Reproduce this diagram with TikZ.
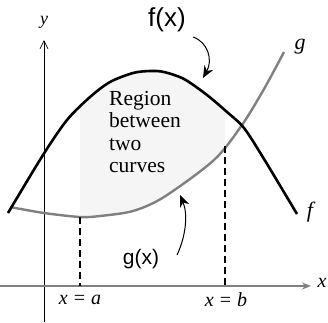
\documentclass[tikz,border=0pt]{standalone}
\usepackage{fontspec}
\setmainfont{Liberation Serif}
\newfontfamily\sansf{Liberation Sans}
\usetikzlibrary{arrows.meta}
\begin{document}
\begin{tikzpicture}[x=1pt,y=-1pt,
  fcurve/.style={line width=2.6pt,black},
  gcurve/.style={line width=2.4pt,black!50},
  axisy/.style={line width=0.7pt,black},
  axisx/.style={line width=1.4pt,black!50},
  dropline/.style={line width=1.1pt,black,dash pattern=on 7pt off 4pt},
  callout/.style={line width=1pt,black,-{Stealth[length=12pt,width=10pt]}},
  mathlbl/.style={font=\fontsize{20}{20}\selectfont\itshape,inner sep=0pt},
  funclbl/.style={inner sep=0pt}]
\useasboundingbox (0,0) rectangle (328,322);
% shaded region
\begin{scope}
\clip (80,0) rectangle (225,322);
\fill[black!4] plot[smooth] coordinates {(8,213) (43,155) (67,120) (90,97) (110,82) (133,73) (150,71) (164,72) (184,79) (207,95) (227,112) (244,128) (264,159) (297,214)}
  -- plot[smooth] coordinates {(284,52) (264,89) (242,125) (214,160) (164,197) (133,211) (100,216) (80,217) (44,213) (10,207)} -- cycle;
\end{scope}
% axes
\coordinate (yb) at (44,322);
\coordinate (yt) at (44,40);
\coordinate (xl) at (0,286);
\coordinate (xr) at (311,286);
\draw[axisy,-{Straight Barb[length=8pt,width=8pt]}] (yb) -- (yt);
\draw[axisx,-{Stealth[length=9pt,width=7pt]}] (xl) -- (xr);
% curves
\draw[gcurve] plot[smooth] coordinates {(10,207) (44,213) (80,217) (100,216) (133,211) (164,197) (214,160) (242,125) (264,89) (284,52)};
\draw[fcurve] plot[smooth] coordinates {(8,213) (43,155) (67,120) (90,97) (110,82) (133,73) (150,71) (164,72) (184,79) (207,95) (227,112) (244,128) (264,159) (297,214)};
% dashed lines
\coordinate (ga) at (80,217);
\coordinate (aa) at (80,286);
\coordinate (gb) at (225,146);
\coordinate (ab) at (225,286);
\draw[dropline] (ga) -- (aa);
\draw[dropline] (gb) -- (ab);
% labels
\node[mathlbl,font=\fontsize{18}{18}\selectfont\itshape] (ylbl) at (44,22) {y};
\node[mathlbl] (xlbl) at (322,283) {x};
\node[mathlbl,font=\fontsize{22}{22}\selectfont\itshape] (flbl) at (310,212) {f};
\node[mathlbl,font=\fontsize{22}{22}\selectfont\itshape] (glbl) at (300,47) {g};
\node[mathlbl] (albl) at (80,300) {x = a};
\node[mathlbl] (blbl) at (226,300) {x = b};
\node[inner sep=0pt,anchor=north west,align=left,font=\fontsize{21.5}{22.5}\selectfont] (region) at (109,91) {Region\\between\\two\\curves};
\node[funclbl,font=\sansf\fontsize{26}{26}\selectfont] (fx) at (167,20) {f(x)};
\node[funclbl,font=\sansf\fontsize{21}{21}\selectfont] (gx) at (141,259) {g(x)};
% callout arrows
\coordinate (fs) at (193,37);
\coordinate (fe) at (203,78);
\coordinate (gs) at (177,255);
\coordinate (ge) at (180,195);
\draw[callout] (fs) .. controls (208,42) and (213,60) .. (fe);
\draw[callout] (gs) .. controls (186,236) and (188,214) .. (ge);
\end{tikzpicture}
\end{document}
